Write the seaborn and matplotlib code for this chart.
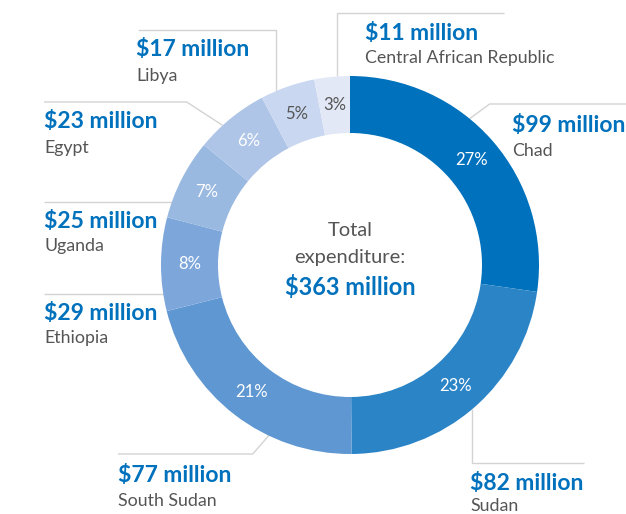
import numpy as np
import seaborn as sns
import matplotlib
matplotlib.use("Agg")
import matplotlib.pyplot as plt

# data
countries = ["Chad", "Sudan", "South Sudan", "Ethiopia", "Uganda", "Egypt",
             "Libya", "Central African Republic"]
spend_musd = [99, 82, 77, 29, 25, 23, 17, 11]
slice_colors = ["#0071BC", "#2B84C6", "#5E97D1", "#7DA7DB", "#9AB9E1",
                "#AFC5E7", "#C9D8F0", "#E2E8F6"]
pct_colors = ["white", "white", "white", "white", "white", "white",
              "#555555", "#555555"]
total_label = "$363 million"

# layout (pixels, y measured from top)
W, H = 626, 514
cx, cy = 350, 265
r_out, ring_w = 189, 57

# fraction along wedge where leader starts, line y (None = horizontal), elbow dx, end x
leaders = {
    "Chad": (0.40, 104, 20, 626),
    "Sudan": (0.51, 463, 0, 584),
    "South Sudan": (0.34, 454, -16, 118),
    "Ethiopia": (0.18, None, 0, 44),
    "Uganda": (0.20, None, 0, 44),
    "Egypt": (0.36, 102, -36, 44),
    "Libya": (0.28, 30, 0, 138),
    "Central African Republic": (0.63, 13, 0, 504),
}
text_pos = {
    "Chad": (512, 125),
    "Sudan": (470, 484),
    "South Sudan": (118, 475),
    "Ethiopia": (44, 313),
    "Uganda": (44, 221),
    "Egypt": (44, 122),
    "Libya": (136, 50),
    "Central African Republic": (365, 33),
}

sns.set_theme(style="white")
plt.rcParams["font.family"] = ["Lato", "DejaVu Sans"]

fig = plt.figure(figsize=(W / 100, H / 100), dpi=100)
ax = fig.add_axes([0, 0, 1, 1])

def fy(y):
    return H - y

wedges, texts, autotexts = ax.pie(
    spend_musd, colors=slice_colors, startangle=90, counterclock=False,
    center=(cx, fy(cy)), radius=r_out,
    wedgeprops=dict(width=ring_w, edgecolor="none"),
    autopct=lambda p: f"{round(p)}%", pctdistance=(r_out - ring_w / 2) / r_out,
    textprops=dict(fontsize=12),
)
for t, c in zip(autotexts, pct_colors):
    t.set_color(c)

# leader lines and labels
total = sum(spend_musd)
start = 0.0
for name, val in zip(countries, spend_musd):
    span = val / total * 360
    frac, line_y, edx, end_x = leaders[name]
    ang = np.radians(start + frac * span)
    ax_x = cx + r_out * np.sin(ang)
    ax_y = cy - r_out * np.cos(ang)
    if line_y is None:
        xs = [ax_x, end_x]
        ys = [ax_y, ax_y]
    else:
        xs = [ax_x, ax_x + edx, end_x]
        ys = [ax_y, line_y, line_y]
    ax.plot(xs, [fy(v) for v in ys], color="#D3D3D3", lw=1.0, zorder=0,
            solid_capstyle="butt")
    tx, ty = text_pos[name]
    ax.text(tx, fy(ty), f"${val} million", color="#0071BC", fontsize=16.5,
            fontweight="bold", ha="left", va="center")
    name_dy = 22 if name == "Sudan" else 25.5
    ax.text(tx, fy(ty + name_dy), name, color="#555555", fontsize=12.8,
            ha="left", va="center")
    start += span

# centre text
ax.text(cx, fy(231), "Total", color="#555555", fontsize=14.5, ha="center", va="center")
ax.text(cx, fy(257), "expenditure:", color="#555555", fontsize=14.5, ha="center", va="center")
ax.text(cx, fy(287), total_label, color="#0071BC", fontsize=17, fontweight="bold",
        ha="center", va="center")

ax.set_xlim(0, W)
ax.set_ylim(0, H)
ax.set_aspect("equal")
ax.axis("off")

fig.savefig("out.png", dpi=100)
